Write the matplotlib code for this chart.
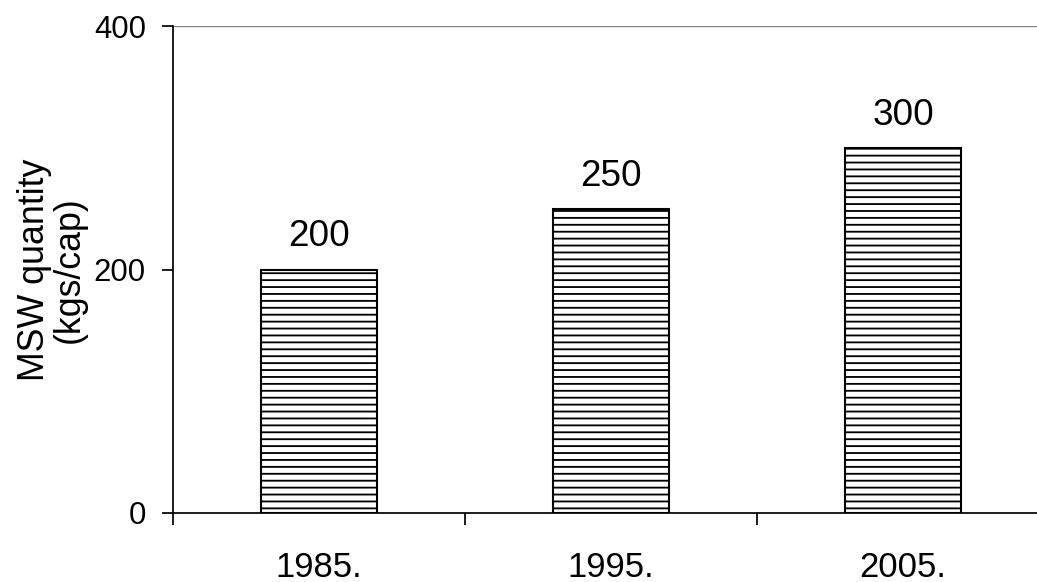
import matplotlib.pyplot as plt

years = ['1985.', '1995.', '2005.']
msw = [200, 250, 300]

DPI = 83
plt.rcParams['font.family'] = ['Liberation Sans', 'DejaVu Sans']
plt.rcParams['hatch.linewidth'] = 1.6

fig = plt.figure(figsize=(1037 / DPI, 582 / DPI), dpi=DPI)
ax = fig.add_axes([173 / 1037, 1 - 513 / 582, 876 / 1037, 487 / 582])

x = [i + 0.5 for i in range(len(years))]
bars = ax.bar(x, msw, width=0.4, color='white', edgecolor='black',
              hatch='--', linewidth=1.8, zorder=3)

for b, v in zip(bars, msw):
    ax.annotate(str(v), (b.get_x() + b.get_width() / 2, v),
                xytext=(0, 20), textcoords='offset points',
                ha='center', va='baseline', fontsize=32)

ax.set_xlim(0, 3)
ax.set_ylim(0, 400)
ax.axhline(400, color='#808080', linewidth=2, zorder=1)

ax.set_yticks([0, 200, 400])
ax.set_xticks([0, 1, 2, 3])
ax.set_xticklabels([])
ax.set_xticks(x, minor=True)
ax.set_xticklabels(years, minor=True)
ax.tick_params(axis='x', which='minor', length=0, pad=33, labelsize=30)
ax.tick_params(axis='x', which='major', direction='out', length=10, width=1.5)
ax.tick_params(axis='y', direction='out', length=9.5, width=1.5, pad=14, labelsize=27)

for s in ['top', 'right']:
    ax.spines[s].set_visible(False)
ax.spines['left'].set_linewidth(1.5)
ax.spines['bottom'].set_linewidth(1.5)

ax.set_ylabel('MSW quantity\n(kgs/cap)', fontsize=31, labelpad=6, linespacing=1.0)

fig.savefig('out.png', dpi=DPI)
